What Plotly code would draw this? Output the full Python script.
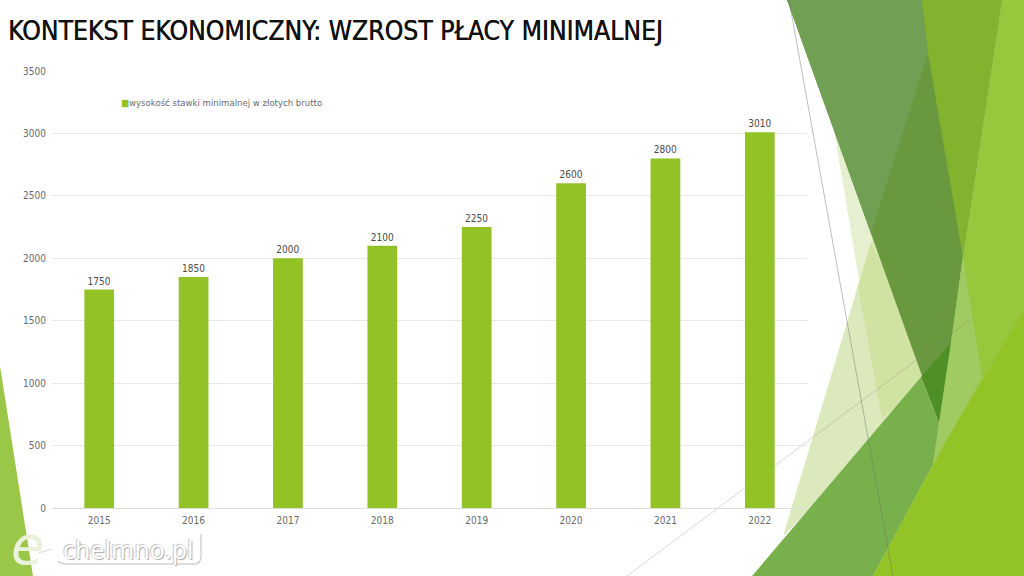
import plotly.graph_objects as go

# Data
years = ['2015', '2016', '2017', '2018', '2019', '2020', '2021', '2022']
wages = [1750, 1850, 2000, 2100, 2250, 2600, 2800, 3010]
y_ticks = [0, 500, 1000, 1500, 2000, 2500, 3000, 3500]

title_text = 'KONTEKST EKONOMICZNY: WZROST PŁACY MINIMALNEJ'
legend_text = 'wysokość stawki minimalnej w złotych brutto'

W, H = 1024, 576
BAR_GREEN = '#92c225'
FONT = 'DejaVu Sans Condensed'


# Background shapes are easier to read in page pixels, so convert to paper coords
def poly(points, color, opacity=1.0):
    path = 'M ' + ' L '.join(f'{x / W:.4f},{1 - y / H:.4f}' for x, y in points) + ' Z'
    return dict(type='path', xref='paper', yref='paper', path=path, fillcolor=color,
                opacity=opacity, line_width=0, layer='below')


def seg(x0, y0, x1, y1, color):
    return dict(type='line', xref='paper', yref='paper', x0=x0 / W, x1=x1 / W,
                y0=1 - y0 / H, y1=1 - y1 / H, line=dict(color=color, width=1), layer='below')


shapes = [
    # pale facets, extended under the darker ones to avoid seams
    poly([(834, 130), (880, 130), (930, 400), (900, 520), (882, 418)], '#e6f0d0'),
    poly([(871, 242), (880, 230), (930, 380), (783, 537)], '#dce9bc'),
    poly([(858, 287), (871, 242), (900, 300), (930, 380), (882, 418)], '#d0e3a2'),
    # base colours under the facets
    poly([(1002, 0), (1024, 0), (1024, 576), (873, 576), (933, 465), (963, 257)], '#96c73c'),
    poly([(787, 0), (1002, 0), (963, 257), (951, 343), (939, 423)], '#69983f'),
    # top facets
    poly([(787, 0), (922, 0), (928, 53), (871, 233)], '#71a055'),
    poly([(922, 0), (1002, 0), (963, 257), (928, 53)], '#83b22f'),
    poly([(951, 343), (921, 377), (939, 423)], '#4f8f25'),
    # right side
    poly([(963, 257), (982, 378), (945, 443), (933, 465), (939, 423), (951, 343)], '#a0cb62'),
    poly([(752, 576), (921, 377), (939, 423), (933, 465), (873, 576)], '#78b14c'),
    poly([(873, 576), (933, 465), (945, 443), (1024, 310), (1024, 576)], '#93c427'),
    # bottom left corner
    poly([(0, 366), (33, 576), (0, 576)], '#9bc748'),
    # thin lines over the facets
    seg(627, 576, 970, 320, 'rgba(120,120,120,0.28)'),
    seg(789, 0, 893, 576, 'rgba(110,110,110,0.45)'),
    # watermark box and the tail of the e
    dict(type='path', xref='paper', yref='paper', layer='below', fillcolor='rgba(255,255,255,0)',
         path=f'M {58 / W:.4f},{1 - 561 / H:.4f} Q {60 / W:.4f},{1 - 564 / H:.4f} {68 / W:.4f},{1 - 564 / H:.4f} '
              f'L {194 / W:.4f},{1 - 564 / H:.4f} Q {201 / W:.4f},{1 - 564 / H:.4f} {201 / W:.4f},{1 - 556 / H:.4f} '
              f'L {201 / W:.4f},{1 - 534 / H:.4f}',
         line=dict(color='#d4d4d4', width=1.5)),
    seg(38, 553, 52, 549, '#d8d8d8'),
]

fig = go.Figure()

fig.add_trace(go.Bar(
    x=years,
    y=wages,
    name=legend_text,
    marker_color=BAR_GREEN,
    marker_line_width=0,
    width=0.315,
    text=wages,
    textposition='outside',
    textfont=dict(family=FONT, size=10, color='#4a4a4a'),
    cliponaxis=False,
))

fig.update_layout(
    width=W,
    height=H,
    margin=dict(l=0, r=0, t=0, b=0, autoexpand=False),
    paper_bgcolor='white',
    plot_bgcolor='rgba(0,0,0,0)',
    showlegend=False,
    shapes=shapes,
    font=dict(family=FONT, color='#6b6b6b', size=10),
    annotations=[
        dict(xref='paper', yref='paper', x=6 / W, y=1 - 31 / H, xanchor='left', yanchor='middle',
             text=title_text, showarrow=False,
             font=dict(family=FONT, size=26.3, color='#111111', shadow='0.4px 0 0 #111111')),
        dict(xref='paper', yref='paper', x=119 / W, y=1 - 103 / H, xanchor='left', yanchor='middle',
             text=f'<span style="color:{BAR_GREEN}">■</span>{legend_text}', showarrow=False,
             font=dict(family=FONT, size=9.5, color='#6b6b6b')),
        dict(xref='paper', yref='paper', x=27 / W, y=1 - 545 / H, xanchor='center', yanchor='middle',
             text='<i>e</i>', showarrow=False, font=dict(family='DejaVu Sans', size=54, color='#eaf2dc')),
        dict(xref='paper', yref='paper', x=61 / W, y=1 - 549 / H, xanchor='left', yanchor='middle',
             text='chelmno.pl', showarrow=False,
             font=dict(family='Noto Sans', size=25, color='#ffffff',
                       shadow='1px 1px 1px #a8a8a8, -1px -1px 1px #c8c8c8')),
    ],
)

fig.update_xaxes(
    domain=[52 / W, 807 / W],
    type='category',
    automargin=False,
    showgrid=False,
    showline=False,
    ticks='',
    ticklabelstandoff=5,
    tickfont=dict(family=FONT, size=10, color='#6b6b6b'),
)
fig.update_yaxes(
    domain=[1 - 508 / H, 1 - 71 / H],
    range=[0, 3500],
    automargin=False,
    tickvals=y_ticks,
    gridcolor='#e8e8e8',
    gridwidth=1,
    zerolinecolor='#dedede',
    zerolinewidth=1,
    ticks='',
    ticklabelstandoff=5,
    tickfont=dict(family=FONT, size=10, color='#6b6b6b'),
)

# drop the browser's default page margin so the figure fills the window
fig.write_html('out.html', config={'displayModeBar': False},
               post_script='document.body.style.margin = "0";')
